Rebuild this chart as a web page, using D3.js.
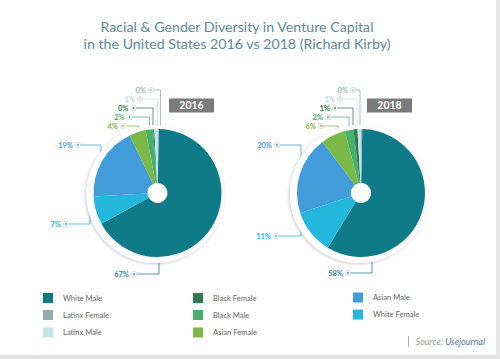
<!DOCTYPE html>
<html>
<head>
<meta charset="utf-8">
<script src="https://cdn.jsdelivr.net/npm/d3@7"></script>
<style>
  html, body { margin: 0; padding: 0; background: #fff; }
  svg { display: block; font-family: Lato, "Open Sans", sans-serif; }
</style>
</head>
<body>
<svg id="chart" width="500" height="359"></svg>
<script>
// ---------- DATA ----------
const categories = ["White Male", "White Female", "Asian Male", "Asian Female",
                    "Black Male", "Black Female", "Latinx Male", "Latinx Female"];
const values2016 = [66.7, 7.1, 18.7, 4.2, 1.9, 0.3, 0.9, 0.2];
const values2018 = [58.4, 11.2, 19.8, 6.2, 2.2, 1.0, 0.9, 0.3];
const years = ["2016", "2018"];
const legendOrder = ["White Male", "Latinx Female", "Latinx Male",
                     "Black Female", "Black Male", "Asian Female",
                     "Asian Male", "White Female"];
const titleLines = ["Racial & Gender Diversity in Venture Capital",
                    "in the United States 2016 vs 2018 (Richard Kirby)"];

// ---------- STYLE / LAYOUT ----------
const colors = {
  "White Male": "#107b88",
  "White Female": "#24b7de",
  "Asian Male": "#429cda",
  "Asian Female": "#7cb847",
  "Black Male": "#47b06c",
  "Black Female": "#2e7c4e",
  "Latinx Male": "#c3e4e8",
  "Latinx Female": "#92aaac"
};
const textColors = {
  "Latinx Male": "#b2dbe1",
  "Latinx Female": "#a3b5b7",
  "White Male": "#2a8b97"
};
// leader layout per pie: [dot dx, label y, bend dx] relative to pie centre, in category order
const leaders2016 = [[-23.5, 274, 1.5], [-91.5, 224, -67.5], [-79.5, 145, -56.5], [-34.5, 126, -18.5],
                     [-28, 117, -8], [-24, 108, -4.5], [-17.5, 99, 0], [-6.5, 90, 3]];
const leaders2018 = [[-13, 273, 11], [-85, 236, -60], [-84, 145, -60], [-40, 126, -23],
                     [-33, 117, -12], [-26, 108, -8], [-21, 99, -4], [-8, 90, -1]];
const pies = [
  { year: years[0], values: values2016, cx: 157.5, cy: 193, leaders: leaders2016, boxDx: 11.5 },
  { year: years[1], values: values2018, cx: 361, cy: 193, leaders: leaders2018, boxDx: 6 }
];

const svg = d3.select("#chart");
const defs = svg.append("defs");
const f = defs.append("filter").attr("id", "shadow")
  .attr("x", "-20%").attr("y", "-20%").attr("width", "140%").attr("height", "140%");
f.append("feDropShadow").attr("dx", -1).attr("dy", 1).attr("stdDeviation", 1.6)
  .attr("flood-color", "#000").attr("flood-opacity", 0.22);

// frame strips
svg.append("rect").attr("x", 496).attr("y", 0).attr("width", 4).attr("height", 359).attr("fill", "#e6e6e6");
svg.append("rect").attr("x", 0).attr("y", 355).attr("width", 500).attr("height", 4).attr("fill", "#e4e4e4");

// title
svg.append("g").selectAll("text").data(titleLines).join("text")
  .attr("x", 237).attr("y", (d, i) => 32 + i * 17)
  .attr("text-anchor", "middle")
  .attr("font-size", 14.2).attr("fill", "#5e8997")
  .text(d => d);

const R = 64, hole = 10;
const pie = d3.pie().sort(null).value(d => d.v).startAngle(0.02).endAngle(0.02 + 2 * Math.PI);
const arc = d3.arc().innerRadius(hole).outerRadius(R);

pies.forEach(p => {
  const g = svg.append("g");
  const data = categories.map((c, i) => ({ c, v: p.values[i] }));

  // leader lines (below the ring so it hides their ends)
  const lg = g.append("g");
  data.forEach((d, i) => {
    const [dx, ly, bx] = p.leaders[i];
    const x0 = p.cx + dx, x1 = p.cx + bx;
    lg.append("path")
      .attr("d", d3.line()([[x0, ly], [x1, ly], [x1, p.cy]]))
      .attr("fill", "none").attr("stroke", colors[d.c]).attr("stroke-opacity", 0.75)
      .attr("stroke-width", 1);
    lg.append("circle").attr("cx", x0).attr("cy", ly).attr("r", 2.6)
      .attr("fill", "#fff").attr("stroke", "#d4d4d4").attr("stroke-width", 0.8);
    lg.append("circle").attr("cx", x0).attr("cy", ly).attr("r", 0.9)
      .attr("fill", textColors[d.c] || colors[d.c]);
    lg.append("text").attr("x", x0 - 5).attr("y", ly + 2.7)
      .attr("text-anchor", "end").attr("font-size", 7.5).attr("font-weight", 700)
      .attr("fill", textColors[d.c] || colors[d.c])
      .text(Math.round(d.v) + "%");
  });

  // white ring with shadow
  g.append("circle").attr("cx", p.cx - 2).attr("cy", p.cy + 1).attr("r", R + 5)
    .attr("fill", "#fff").attr("filter", "url(#shadow)");

  // slices
  g.append("g").attr("transform", `translate(${p.cx},${p.cy})`)
    .selectAll("path").data(pie(data)).join("path")
    .attr("d", arc).attr("fill", d => colors[d.data.c]);

  // year box
  g.append("rect").attr("x", p.cx + p.boxDx).attr("y", 98.5).attr("width", 45).attr("height", 14)
    .attr("fill", "#7b7b7b");
  g.append("text").attr("x", p.cx + p.boxDx + 22.5).attr("y", 109.3)
    .attr("text-anchor", "middle").attr("font-size", 10.5).attr("font-weight", 700)
    .attr("fill", "#fff").text(p.year);
});

// legend
const colX = [43, 193, 353], rowY = [293, 310, 327.5];
const lgd = svg.append("g");
legendOrder.forEach((c, i) => {
  const col = Math.floor(i / 3), row = i % 3;
  const x = colX[col], y = rowY[row] - (col === 2 ? 0.5 : 0);
  lgd.append("rect").attr("x", x).attr("y", y).attr("width", 10).attr("height", 10).attr("fill", colors[c]);
  lgd.append("text").attr("x", x + 20).attr("y", y + 7.5).attr("font-size", 7.6)
    .attr("fill", "#666").text(c);
});

// source
svg.append("line").attr("x1", 408.5).attr("x2", 408.5).attr("y1", 336).attr("y2", 347)
  .attr("stroke", "#aaa").attr("stroke-width", 1);
const src = svg.append("text").attr("x", 485).attr("y", 344.5).attr("text-anchor", "end")
  .attr("font-size", 9).attr("font-style", "italic");
src.append("tspan").attr("fill", "#9a9a9a").text("Source: ");
src.append("tspan").attr("fill", "#4a7d8e").text("Usejournal");
</script>
</body>
</html>
